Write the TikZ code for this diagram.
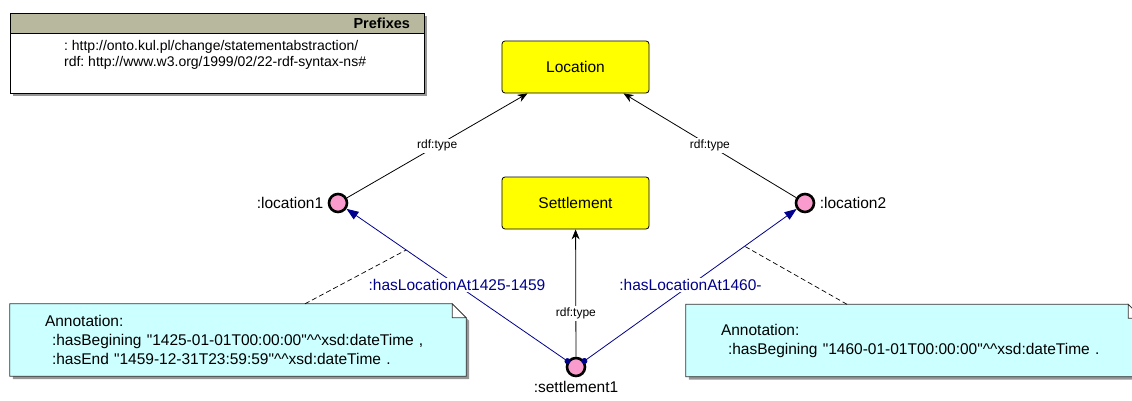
\documentclass[tikz,border=0pt]{standalone}
\usepackage{fontspec}
\setmainfont{Liberation Sans}
\usetikzlibrary{arrows.meta,positioning}
\definecolor{classyellow}{RGB}{255,255,0}
\definecolor{instpink}{RGB}{250,155,205}
\definecolor{propblue}{RGB}{0,0,140}
\definecolor{notecyan}{RGB}{204,255,255}
\definecolor{prefheadcol}{RGB}{184,184,158}
\definecolor{shadowgray}{RGB}{150,150,150}
\pgfdeclarelayer{background}
\pgfsetlayers{background,main}
\frenchspacing

\begin{document}
\begin{tikzpicture}[
  x=1pt, y=-1pt,
  font=\fontsize{15.5}{19}\selectfont,
  classbox/.style={draw, line width=0.8pt, rounded corners=3pt, fill=classyellow, minimum width=147pt, minimum height=52pt},
  inst/.style={circle, draw, line width=2.6pt, fill=instpink, minimum size=18pt, inner sep=0pt},
  typearrow/.style={-{Stealth[length=10pt, width=8pt]}, draw=black, line width=0.8pt},
  typelabel/.style={font=\fontsize{12}{14}\selectfont, fill=white, inner sep=1.5pt},
  proparrow/.style={{Circle[length=6pt]}-{Triangle[length=12pt, width=9pt]}, draw=propblue,
    line width=0.8pt, shorten <=-3pt},
  proplabel/.style={text=propblue, fill=white, inner sep=1.5pt},
  notebox/.style={text width=386pt, inner xsep=35pt, minimum height=72pt, align=left},
  notelink/.style={draw=black, line width=0.7pt, dash pattern=on 5pt off 3pt},
  prefbox/.style={draw, line width=0.8pt, fill=white, minimum width=414pt, minimum height=80pt},
  prefhead/.style={draw, line width=0.8pt, fill=prefheadcol, minimum height=20pt, text width=386pt,
    inner xsep=14pt, align=right, font=\fontsize{14.5}{16}\selectfont\bfseries},
  preftext/.style={align=left, font=\fontsize{14}{16}\selectfont}
]
\useasboundingbox (0,0) rectangle (1132,401);

% prefixes
\node[prefbox] (pref) at (217,53) {};
\node[prefhead, anchor=north] (prefhdr) at (pref.north) {Prefixes};
\node[preftext, anchor=north west] (prefbody) at ([xshift=51pt,yshift=-3pt]prefhdr.south west)
  {: http://onto.kul.pl/change/statementabstraction/\\rdf: http://www.w3.org/1999/02/22-rdf-syntax-ns\#};

% classes
\node[classbox] (location) at (575.5,67) {Location};
\node[classbox] (settlement) at (575.5,203) {Settlement};

% individuals
\node[inst, label={[label distance=1pt]left::location1}] (loc1) at (338,203) {};
\node[inst, label={[label distance=1pt]right::location2}] (loc2) at (805,203) {};
\node[inst, label={[label distance=0pt]below::settlement1}] (settle1) at (576,367) {};

\draw[typearrow] (loc1) -- node[typelabel] {rdf:type} ([xshift=-48pt]location.south);
\draw[typearrow] (loc2) -- node[typelabel] {rdf:type} ([xshift=48pt]location.south);
\draw[typearrow] (settle1) -- node[typelabel, pos=0.34] {rdf:type} (settlement);

\draw[proparrow] (settle1) -- node[proplabel] {:hasLocationAt1425-1459}
  coordinate[pos=0.73] (note1end) (loc1);
\draw[proparrow] (settle1) -- node[proplabel] {:hasLocationAt1460-}
  coordinate[pos=0.755] (note2end) (loc2);

% annotations
\node[notebox] (note1) at (238,340)
  {Annotation:\\\hspace*{7pt}:hasBegining \textquotedbl 1425-01-01T00:00:00\textquotedbl\^{}\^{}xsd:dateTime ,\\\hspace*{7pt}:hasEnd \textquotedbl 1459-12-31T23:59:59\textquotedbl\^{}\^{}xsd:dateTime .};
\node[notebox] (note2) at (914,340.5)
  {Annotation:\\\hspace*{7pt}:hasBegining \textquotedbl 1460-01-01T00:00:00\textquotedbl\^{}\^{}xsd:dateTime .};

\begin{pgfonlayer}{background}
\fill[shadowgray] ([xshift=3pt,yshift=-3pt]pref.south west) rectangle ([xshift=3pt,yshift=-3pt]pref.north east);
\foreach \n in {note1,note2} {
  \fill[shadowgray] ([xshift=3pt,yshift=-3pt]\n.south west) -- ([xshift=3pt,yshift=-3pt]\n.north west)
    -- ([xshift=-11pt,yshift=-3pt]\n.north east) -- ([xshift=3pt,yshift=-17pt]\n.north east)
    -- ([xshift=3pt,yshift=-3pt]\n.south east) -- cycle;
  \filldraw[fill=notecyan, draw=black!80, line width=0.8pt] (\n.south west) -- (\n.north west)
    -- ([xshift=-14pt]\n.north east) -- ([yshift=-14pt]\n.north east) -- (\n.south east) -- cycle;
  \filldraw[fill=white, draw=black!80, line width=0.8pt] ([xshift=-14pt]\n.north east)
    -- ([xshift=-14pt,yshift=-14pt]\n.north east) -- ([yshift=-14pt]\n.north east) -- cycle;
}
\end{pgfonlayer}

\draw[notelink] ([xshift=67pt]note1.north) -- (note1end);
\draw[notelink] ([xshift=-67pt]note2.north) -- (note2end);

\end{tikzpicture}
\end{document}
